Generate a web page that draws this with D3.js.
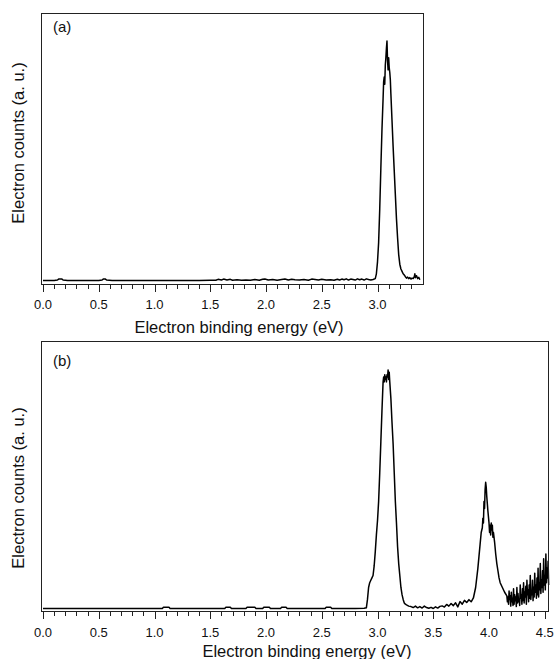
<!DOCTYPE html>
<html><head><meta charset="utf-8">
<script src="https://cdn.jsdelivr.net/npm/d3@7"></script>
<style>
body{margin:0;background:#fff}
svg{display:block}
text{font-family:"Liberation Sans",Arial,Helvetica,sans-serif;fill:#111}
</style>
</head><body>
<svg id="chart" width="556" height="659"></svg>
<script>
// ---------- data (panel a) ----------
const energyA = [0.00,0.05,0.10,0.13,0.14,0.17,0.18,0.22,0.30,0.40,0.50,0.53,0.54,0.56,0.57,0.62,0.70,0.80,0.90,1.00,1.10,1.20,1.30,1.40,1.50,1.55,1.57,1.60,1.62,1.65,1.68,1.70,1.74,1.78,1.82,1.86,1.90,1.94,1.97,1.99,2.02,2.06,2.10,2.14,2.17,2.20,2.23,2.26,2.30,2.34,2.38,2.41,2.44,2.47,2.50,2.54,2.58,2.61,2.64,2.66,2.68,2.70,2.72,2.74,2.76,2.78,2.80,2.82,2.84,2.86,2.88,2.90,2.92,2.94,2.96,2.98,2.99,3.00,3.01,3.02,3.03,3.04,3.05,3.055,3.06,3.065,3.07,3.075,3.08,3.085,3.09,3.095,3.10,3.105,3.11,3.115,3.12,3.13,3.14,3.15,3.16,3.17,3.18,3.19,3.20,3.21,3.22,3.23,3.24,3.25,3.26,3.27,3.28,3.29,3.30,3.31,3.32,3.33,3.335,3.34,3.35,3.36,3.37,3.38];
const countsA = [0.002,0.002,0.002,0.004,0.008,0.008,0.004,0.002,0.002,0.002,0.002,0.004,0.008,0.008,0.004,0.002,0.002,0.002,0.002,0.002,0.002,0.002,0.002,0.002,0.003,0.003,0.007,0.004,0.008,0.004,0.007,0.003,0.005,0.003,0.004,0.003,0.006,0.003,0.007,0.008,0.004,0.006,0.003,0.006,0.008,0.004,0.007,0.005,0.004,0.006,0.003,0.008,0.006,0.004,0.007,0.004,0.005,0.003,0.007,0.004,0.008,0.005,0.009,0.004,0.008,0.006,0.004,0.009,0.005,0.008,0.004,0.009,0.006,0.004,0.006,0.01,0.03,0.08,0.16,0.30,0.47,0.63,0.76,0.83,0.85,0.82,0.90,0.93,0.97,1.00,0.92,0.88,0.93,0.89,0.87,0.84,0.78,0.67,0.56,0.46,0.36,0.26,0.18,0.11,0.07,0.05,0.04,0.03,0.025,0.018,0.012,0.016,0.01,0.014,0.008,0.012,0.01,0.018,0.03,0.014,0.022,0.01,0.015,0.005];

// ---------- data (panel b) ----------
const energyB = [0.00,0.10,0.20,0.30,0.40,0.50,0.60,0.70,0.80,0.90,1.00,1.07,1.08,1.13,1.14,1.20,1.30,1.40,1.50,1.60,1.63,1.64,1.68,1.69,1.75,1.82,1.83,1.90,1.91,1.97,1.98,2.03,2.04,2.10,2.13,2.14,2.18,2.19,2.30,2.40,2.50,2.53,2.54,2.58,2.59,2.70,2.80,2.88,2.90,2.91,2.92,2.93,2.94,2.95,2.96,2.97,2.98,2.99,3.00,3.01,3.02,3.03,3.04,3.05,3.055,3.06,3.065,3.07,3.075,3.08,3.085,3.09,3.095,3.10,3.105,3.11,3.12,3.13,3.14,3.15,3.16,3.17,3.18,3.19,3.20,3.21,3.22,3.23,3.24,3.25,3.26,3.28,3.30,3.32,3.34,3.36,3.38,3.40,3.42,3.44,3.46,3.48,3.50,3.52,3.54,3.56,3.58,3.60,3.62,3.64,3.66,3.68,3.70,3.72,3.74,3.76,3.78,3.80,3.82,3.84,3.86,3.88,3.90,3.91,3.92,3.93,3.94,3.945,3.95,3.955,3.96,3.965,3.97,3.975,3.98,3.985,3.99,4.00,4.005,4.01,4.015,4.02,4.025,4.03,4.035,4.04,4.05,4.06,4.07,4.08,4.09,4.10,4.12,4.14,4.16,4.165,4.17,4.175,4.18,4.185,4.19,4.195,4.20,4.205,4.21,4.215,4.22,4.225,4.23,4.235,4.24,4.245,4.25,4.255,4.26,4.265,4.27,4.275,4.28,4.285,4.29,4.295,4.30,4.305,4.31,4.315,4.32,4.325,4.33,4.335,4.34,4.345,4.35,4.355,4.36,4.365,4.37,4.375,4.38,4.385,4.39,4.395,4.40,4.405,4.41,4.415,4.42,4.425,4.43,4.435,4.44,4.445,4.45,4.455,4.46,4.465,4.47,4.475,4.48,4.485,4.49,4.495,4.50,4.505,4.51,4.515,4.52,4.525,4.53,4.535];
const countsB = [0.002,0.002,0.002,0.002,0.002,0.002,0.002,0.002,0.002,0.002,0.002,0.002,0.007,0.007,0.002,0.002,0.002,0.002,0.002,0.002,0.002,0.007,0.007,0.002,0.002,0.002,0.007,0.007,0.002,0.002,0.007,0.007,0.002,0.002,0.002,0.007,0.007,0.002,0.002,0.002,0.002,0.002,0.007,0.007,0.002,0.002,0.002,0.003,0.005,0.04,0.09,0.11,0.12,0.13,0.14,0.18,0.24,0.31,0.37,0.45,0.57,0.70,0.83,0.95,0.97,0.95,0.98,0.96,0.97,0.95,0.98,0.97,1.00,0.96,0.99,0.95,0.88,0.78,0.69,0.57,0.45,0.36,0.26,0.19,0.14,0.09,0.06,0.04,0.025,0.02,0.017,0.012,0.01,0.006,0.012,0.005,0.01,0.004,0.012,0.006,0.003,0.007,0.002,0.009,0.004,0.011,0.013,0.008,0.019,0.012,0.023,0.014,0.026,0.009,0.031,0.02,0.036,0.027,0.039,0.03,0.046,0.09,0.17,0.22,0.27,0.32,0.34,0.38,0.36,0.45,0.42,0.50,0.53,0.51,0.47,0.44,0.41,0.36,0.32,0.35,0.31,0.36,0.33,0.35,0.30,0.32,0.28,0.23,0.19,0.16,0.13,0.11,0.09,0.07,0.055,0.03,0.05,0.02,0.075,0.04,0.055,0.012,0.07,0.03,0.045,0.015,0.085,0.02,0.06,0.035,0.05,0.01,0.09,0.025,0.065,0.03,0.04,0.015,0.1,0.045,0.06,0.02,0.085,0.035,0.11,0.025,0.07,0.05,0.095,0.02,0.12,0.06,0.08,0.03,0.1,0.045,0.14,0.04,0.07,0.06,0.12,0.035,0.09,0.05,0.15,0.07,0.1,0.045,0.13,0.06,0.17,0.05,0.11,0.08,0.19,0.065,0.12,0.09,0.16,0.07,0.21,0.1,0.14,0.08,0.23,0.11,0.17,0.13,0.2,0.1,0.25,0.14,0.19,0.12];

// ---------- tick labels ----------
const tickLabelsA = ["0.0","0.5","1.0","1.5","2.0","2.5","3.0"];
const tickLabelsB = ["0.0","0.5","1.0","1.5","2.0","2.5","3.0","3.5","4.0","4.5"];
const xTitle = "Electron binding energy (eV)";
const yTitle = "Electron counts (a. u.)";
const panelLabels = ["(a)","(b)"];

// ---------- layout ----------
const panels = [
  {energy:energyA, counts:countsA, labels:tickLabelsA, minorMax:3.3, tag:panelLabels[0],
   left:41, right:424, top:13, bottom:284, xDom:[-0.018,3.417], yDom:[-0.0125,1.117],
   tickY:309, titleX:239, titleY:333, yTitleY:143, tagY:32},
  {energy:energyB, counts:countsB, labels:tickLabelsB, minorMax:4.5, tag:panelLabels[1],
   left:41, right:549, top:341, bottom:611, xDom:[-0.018,4.538], yDom:[-0.0084,1.121],
   tickY:637, titleX:307, titleY:657, yTitleY:488, tagY:366}
];

const svg = d3.select("#chart");

panels.forEach(p => {
  const x = d3.scaleLinear().domain(p.xDom).range([p.left, p.right]);
  const y = d3.scaleLinear().domain(p.yDom).range([p.bottom, p.top]);
  const g = svg.append("g");

  // data line
  const pts = p.energy.map((e,i)=>[e,p.counts[i]]);
  g.append("path")
    .datum(pts)
    .attr("fill","none")
    .attr("stroke","#000")
    .attr("stroke-width",1.5)
    .attr("stroke-linejoin","round")
    .attr("d", d3.line().x(d=>x(d[0])).y(d=>y(d[1])));

  // frame
  g.append("rect")
    .attr("x",p.left+0.5).attr("y",p.top+0.5)
    .attr("width",p.right-p.left-1).attr("height",p.bottom-p.top)
    .attr("fill","none").attr("stroke","#222").attr("stroke-width",1);

  // ticks
  const minor = d3.range(0, p.minorMax+0.001, 0.1);
  g.selectAll(".tk").data(minor).enter().append("line")
    .attr("x1",d=>Math.round(x(d))+0.5).attr("x2",d=>Math.round(x(d))+0.5)
    .attr("y1",p.bottom+0.5)
    .attr("y2",(d,i)=> (i%5===0) ? p.bottom+8 : p.bottom+5)
    .attr("stroke","#222").attr("stroke-width",1);

  // tick labels
  g.selectAll(".tl").data(p.labels).enter().append("text")
    .attr("x",d=>x(+d)).attr("y",p.tickY)
    .attr("text-anchor","middle").attr("font-size",13)
    .text(d=>d);

  // x title
  g.append("text").attr("x",p.titleX).attr("y",p.titleY)
    .attr("text-anchor","middle").attr("font-size",16.5).text(xTitle);

  // y title
  g.append("text")
    .attr("transform",`translate(24,${p.yTitleY}) rotate(-90)`)
    .attr("text-anchor","middle").attr("font-size",16.5).text(yTitle);

  // panel tag
  g.append("text").attr("x",53).attr("y",p.tagY)
    .attr("font-size",15).text(p.tag);
});
</script>
</body></html>
